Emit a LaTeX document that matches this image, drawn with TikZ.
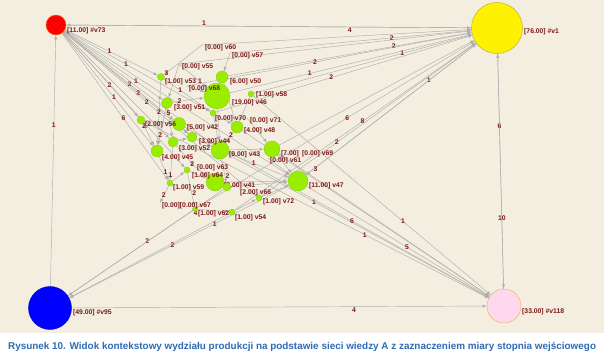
\documentclass[tikz,border=0pt]{standalone}
\usepackage{fontspec}
\setmainfont{Liberation Sans}
\usetikzlibrary{arrows}
\definecolor{bgpanel}{HTML}{F3EEDF}
\definecolor{edgegray}{HTML}{ADADAD}
\definecolor{wtred}{HTML}{7D1A1A}
\definecolor{limev}{HTML}{99EE00}
\definecolor{limeb}{HTML}{88C81C}
\definecolor{capblue}{HTML}{2E6CB5}
\definecolor{pinkv}{HTML}{FDD8EE}
\pgfdeclarelayer{panel}
\pgfdeclarelayer{links}
\pgfsetlayers{panel,links,main}
\tikzset{
	gv/.style={circle,fill=limev,draw=limeb,line width=.3pt,inner sep=0pt},
	hub/.style={circle,line width=.4pt,inner sep=0pt},
	vlab/.style={anchor=west,inner sep=0pt,text=wtred,font=\bfseries\fontsize{6.8}{7}\selectfont},
	wt/.style={inner sep=.5pt,text=wtred,font=\bfseries\fontsize{6.8}{7}\selectfont},
	link/.style={draw=edgegray,line width=.45pt,-latex},
}
\begin{document}
\begin{tikzpicture}[x=1pt,y=-1pt]
	\useasboundingbox (0,0) rectangle (604,359);
	\begin{pgfonlayer}{panel}
	\fill[white] (0,0) rectangle (604,359);
	\fill[bgpanel] (0,0) rectangle (604,333);
	\end{pgfonlayer}
	% hubs
	\node[hub,fill=red,draw=orange!70!red,minimum size=20pt] at (56,25) (v73) {};
	\node[hub,fill=yellow,draw=olive!70,minimum size=51pt] at (497,28) (v1) {};
	\node[hub,fill=blue,draw=blue!80!black,minimum size=43pt] at (50,308) (v95) {};
	\node[hub,fill=pinkv,draw=orange!70,minimum size=34pt] at (504,306) (v118) {};
	% zero nodes
	\coordinate (v60) at (202,45);
	\coordinate (v57) at (230,53);
	\coordinate (v55) at (179,64);
	\coordinate (v68) at (187,86);
	\coordinate (v71) at (247,118);
	\coordinate (v63) at (194,166);
	\coordinate (v69) at (290,152);
	\coordinate (v61) at (268,158);
	\coordinate (v67) at (160,203);
	% green nodes
	\node[gv,minimum size=7pt] at (161,77) (v53) {};
	\node[gv,minimum size=12pt] at (222,77) (v50) {};
	\node[gv,minimum size=26pt] at (217,96) (v46) {};
	\node[gv,minimum size=6pt] at (251,94) (v58) {};
	\node[gv,minimum size=11pt] at (167,103) (v51) {};
	\node[gv,minimum size=6pt] at (213,113) (v70) {};
	\node[gv,minimum size=8pt] at (141,120) (v56) {};
	\node[gv,minimum size=13pt] at (179,124) (v42) {};
	\node[gv,minimum size=12pt] at (237,127) (v48) {};
	\node[gv,minimum size=10pt] at (192,137) (v44) {};
	\node[gv,minimum size=10pt] at (173,142) (v52) {};
	\node[gv,minimum size=12pt] at (157,151) (v45) {};
	\node[gv,minimum size=18pt] at (220,150) (v43) {};
	\node[gv,minimum size=16pt] at (272,149) (v40) {};
	\node[gv,minimum size=20pt] at (298,181) (v47) {};
	\node[gv,minimum size=6pt] at (187,170) (v64) {};
	\node[gv,minimum size=18pt] at (215,182) (v41) {};
	\node[vlab] at (224,186) {[8.00] v41};
	\node[gv,minimum size=8pt] at (227,187) (v66) {};
	\node[gv,minimum size=6pt] at (170,183) (v59) {};
	\node[gv,minimum size=6pt] at (259,198) (v72) {};
	\node[gv,minimum size=5pt] at (195,209) (v62) {};
	\node[gv,minimum size=6pt] at (232,212) (v54) {};
	% vertex labels
	\node[vlab] at (67,31) {[11.00] \#v73};
	\node[vlab] at (524,32) {[76.00] \#v1};
	\node[vlab] at (73,313) {[49.00] \#v95};
	\node[vlab] at (522,312) {[33.00] \#v118};
	\node[vlab] at (205,48) {[0.00] v60};
	\node[vlab] at (232,56) {[0.00] v57};
	\node[vlab] at (182,67) {[0.00] v55};
	\node[vlab] at (165,82) {[1.00] v53};
	\node[vlab] at (230,82) {[6.00] v50};
	\node[vlab] at (189,89) {[0.00] v68};
	\node[vlab] at (232,103) {[19.00] v46};
	\node[vlab] at (256,95) {[1.00] v58};
	\node[vlab] at (174,108) {[3.00] v51};
	\node[vlab] at (215,119) {[0.00] v70};
	\node[vlab] at (250,121) {[0.00] v71};
	\node[vlab] at (145,125) {[2.00] v56};
	\node[vlab] at (187,128) {[5.00] v42};
	\node[vlab] at (244,131) {[4.00] v48};
	\node[vlab] at (199,142) {[3.00] v44};
	\node[vlab] at (179,149) {[3.00] v52};
	\node[vlab] at (162,158) {[4.00] v45};
	\node[vlab] at (229,155) {[9.00] v43};
	\node[vlab] at (281,154) {[7.00]};
	\node[vlab] at (302,154) {[0.00] v69};
	\node[vlab] at (270,161) {[0.00] v61};
	\node[vlab] at (197,168) {[0.00] v63};
	\node[vlab] at (192,176) {[1.00] v64};
	\node[vlab] at (240,193) {[2.00] v66};
	\node[vlab] at (173,188) {[1.00] v59};
	\node[vlab] at (263,202) {[1.00] v72};
	\node[vlab] at (162,206) {[0.00][0.00] v67};
	\node[vlab] at (198,214) {[1.00] v62};
	\node[vlab] at (235,218) {[1.00] v54};
	\node[vlab] at (309,186) {[11.00] v47};
	\begin{pgfonlayer}{links}
	% hub to hub
	\draw[link] (v73) -- node[wt,below,pos=.7] {4} (v1);
	\draw[link] (v1) -- node[wt,above,pos=.66] {1} (v73);
	\draw[link] (v95) -- node[wt,pos=.64] {1} (v73);
	\draw[link] (v95) -- node[wt,below,pos=.68] {4} (v118);
	\draw[link] (v118) -- node[wt,pos=.69] {6} (v1);
	\draw[link] (v1) -- node[wt,pos=.7] {10} (v118);
	% fan out of v73
	\draw[link] (v73) -- node[wt,pos=.48] {1} (v53);
	\draw[link] (v73) -- node[wt,pos=.42] {1} (v70);
	\draw[link] (v73) -- node[wt,pos=.62] {2} (v56);
	\draw[link] (v73) -- node[wt,pos=.6] {2} (v42);
	\draw[link] (v73) -- node[wt,pos=.73] {1} (v51);
	\draw[link] (v73) -- node[wt,pos=.57] {1} (v45);
	\draw[link] (v73) -- node[wt,pos=.6] {2} (v44);
	\draw[link] (v73) -- node[wt,pos=.43] {2} (v72);
	\draw[link] (v73) -- node[wt,pos=.58] {6} (v59);
	\draw[link] (v73) -- (v64);
	\draw[link] (v73) -- (v43);
	\draw[link] (v73) -- (v47);
	\draw[link] (v73) -- (v52);
	% into v1
	\draw[link] (v57) -- node[wt,pos=.67] {2} (v1);
	\draw[link] (v50) -- node[wt,pos=.68] {2} (v1);
	\draw[link] (v58) -- node[wt,pos=.68] {1} (v1);
	\draw[link] (v68) -- node[wt,pos=.45] {2} (v1);
	\draw[link] (v46) -- node[wt,pos=.33] {1} (v1);
	\draw[link] (v70) -- node[wt,pos=.45] {2} (v1);
	\draw[link] (v47) -- node[wt,pos=.72] {1} (v1);
	\draw[link] (v1) -- node[wt,pos=.96,right] {3} (v47);
	\draw[link] (v62) -- node[wt,pos=.54] {6} (v1);
	\draw[link] (v54) -- node[wt,pos=.53] {8} (v1);
	\draw[link] (v72) -- node[wt,pos=.35] {2} (v1);
	\draw[link] (v60) -- (v1);
	\draw[link] (v55) -- (v1);
	\draw[link] (v40) -- (v1);
	% into v118
	\draw[link] (v43) -- node[wt,pos=.33] {1} (v118);
	\draw[link] (v42) -- node[wt,pos=.55] {6} (v118);
	\draw[link] (v56) -- node[wt,pos=.64] {1} (v118);
	\draw[link] (v58) -- node[wt,pos=.63] {1} (v118);
	\draw[link] (v47) -- node[wt,pos=.55] {5} (v118);
	\draw[link] (v48) -- (v118);
	\draw[link] (v40) -- (v118);
	% into v95
	\draw[link] (v66) -- node[wt,pos=.49] {2} (v95);
	\draw[link] (v47) -- node[wt,pos=.53] {2} (v95);
	\draw[link] (v54) -- node[wt,pos=.09,below] {1} (v95);
	\draw[link] (v62) -- node[wt,pos=0,anchor=north west] {4} (v95);
	% inside the cluster
	\draw[link] (v60) -- node[wt,pos=.93] {3} (v53);
	\draw[link] (v51) -- node[wt,pos=.22] {2} (v46);
	\draw[link] (v53) -- node[wt,pos=.35] {1} (v70);
	\draw[link] (v55) -- node[wt,pos=.75] {1} (v46);
	\draw[link] (v53) -- node[wt,pos=.49] {2} (v45);
	\draw[link] (v51) -- node[wt,pos=.17] {5} (v52);
	\draw[link] (v51) -- node[wt,pos=.72] {2} (v45);
	\draw[link] (v56) -- node[wt,pos=.1] {2} (v45);
	\draw[link] (v45) -- node[wt,pos=.65] {1} (v59);
	\draw[link] (v52) -- node[wt,pos=.85] {1} (v59);
	\draw[link] (v64) -- node[wt,pos=.6,right] {2} (v62);
	\draw[link] (v52) -- node[wt,pos=.9] {2} (v63);
	\draw[link] (v43) -- node[wt,pos=.7,right] {2} (v66);
	\draw[link] (v43) -- node[wt,pos=.42] {1} (v47);
	\draw[link] (v48) -- node[wt,pos=.3] {2} (v43);
	\draw[link] (v59) -- node[wt,pos=.55] {2} (v67);
	\draw[link] (v46) -- (v43);
	\draw[link] (v50) -- (v48);
	\draw[link] (v42) -- (v44);
	\draw[link] (v56) -- (v42);
	\draw[link] (v41) -- (v47);
	\draw[link] (v66) -- (v47);
	\draw[link] (v72) -- (v47);
	\draw[link] (v40) -- (v47);
	\draw[link] (v43) -- (v40);
	\draw[link] (v58) -- (v48);
	\draw[link] (v70) -- (v48);
	\draw[link] (v44) -- (v43);
	\draw[link] (v52) -- (v44);
	\draw[link] (v64) -- (v41);
	\draw[link] (v59) -- (v64);
	\draw[link] (v54) -- (v72);
	\draw[link] (v62) -- (v54);
	\draw[link] (v55) -- (v51);
	\draw[link] (v57) -- (v50);
	\draw[link] (v68) -- (v46);
	\draw[link] (v71) -- (v40);
	\draw[link] (v61) -- (v47);
	\draw[link] (v63) -- (v41);
	\draw[link] (v70) -- (v43);
	\end{pgfonlayer}
	% caption
	\node[anchor=west,inner sep=0pt,text=capblue,font=\bfseries\fontsize{9.9}{11}\selectfont] at (8,347) (cap) {Rysunek 10. Widok kontekstowy wydziału produkcji na podstawie sieci wiedzy A z zaznaczeniem miary stopnia wejściowego};
\end{tikzpicture}
\end{document}
